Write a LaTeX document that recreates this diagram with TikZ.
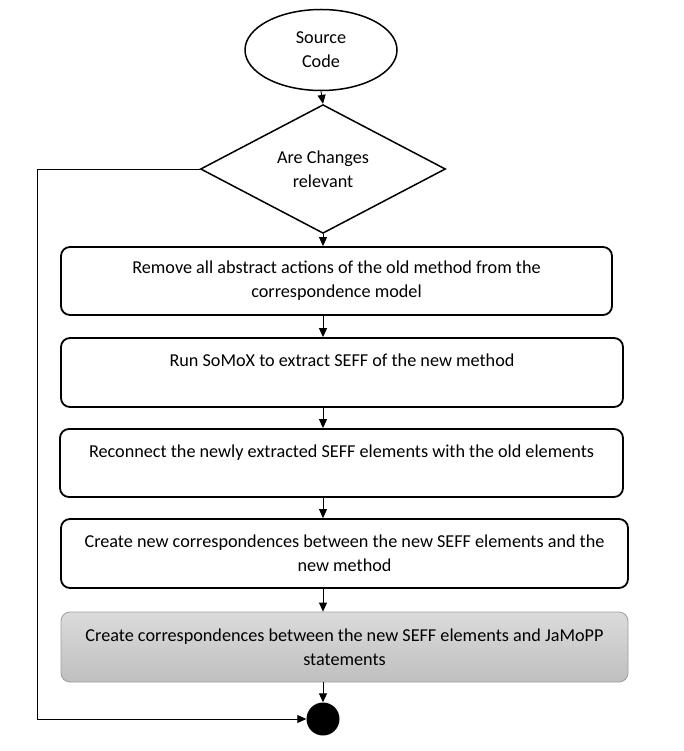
\documentclass[tikz,border=0pt]{standalone}
\usepackage{fontspec}
\setmainfont{Carlito}
\usetikzlibrary{shapes.geometric,arrows.meta}
\begin{document}
\begin{tikzpicture}[x=1pt,y=-1pt,
  font=\fontsize{18.2}{24}\selectfont,
  flow/.style={draw=black,line width=0.9pt,-{Triangle[length=9pt,width=8pt]}},
  stepbox/.style={draw=black,line width=1.8pt,rounded corners=9pt,align=center,inner sep=0pt},
  graybox/.style={draw=black!38,line width=0.8pt,rounded corners=9pt,align=center,inner sep=0pt,top color=black!14,bottom color=black!25}]
\useasboundingbox (0,0) rectangle (684,751);
\node[ellipse,draw,line width=1.5pt,minimum width=152pt,minimum height=81pt,inner sep=0pt,align=center] (src) at (321,50) {Source\\Code};
\node[diamond,draw,line width=1.5pt,minimum width=245pt,minimum height=118pt,inner sep=0pt,align=center] (dec) at (323,169) {Are Changes\\relevant};
\node[stepbox,minimum width=551pt,minimum height=68pt] (b1) at (336.5,281) {Remove all abstract actions of the old method from the\\correspondence model};
\node[stepbox,minimum width=562pt,minimum height=69pt] (b2) at (342,372.5) {Run SoMoX to extract SEFF of the new method\\\mbox{}};
\node[stepbox,minimum width=563pt,minimum height=68pt] (b3) at (341.5,463) {Reconnect the newly extracted SEFF elements with the old elements\\\mbox{}};
\node[stepbox,minimum width=567pt,minimum height=69pt] (b4) at (344.5,553.5) {Create new correspondences between the new SEFF elements and the\\new method};
\node[graybox,minimum width=567pt,minimum height=70pt] (b5) at (344.5,647) {Create correspondences between the new SEFF elements and JaMoPP\\statements};
\node[circle,fill=black,minimum size=33pt,inner sep=0pt] (fin) at (323,719) {};
\coordinate (L) at (37,0);
\draw[flow] (src.south) -- (dec.north);
\draw[flow] (dec.south) -- (dec.south |- b1.north);
\draw[flow] (dec.south |- b1.south) -- (dec.south |- b2.north);
\draw[flow] (dec.south |- b2.south) -- (dec.south |- b3.north);
\draw[flow] (dec.south |- b3.south) -- (dec.south |- b4.north);
\draw[flow] (dec.south |- b4.south) -- (dec.south |- b5.north);
\draw[flow] (dec.south |- b5.south) -- (fin.north);
\draw[flow] (dec.west) -- (dec.west -| L) |- (fin.west);
\end{tikzpicture}
\end{document}
